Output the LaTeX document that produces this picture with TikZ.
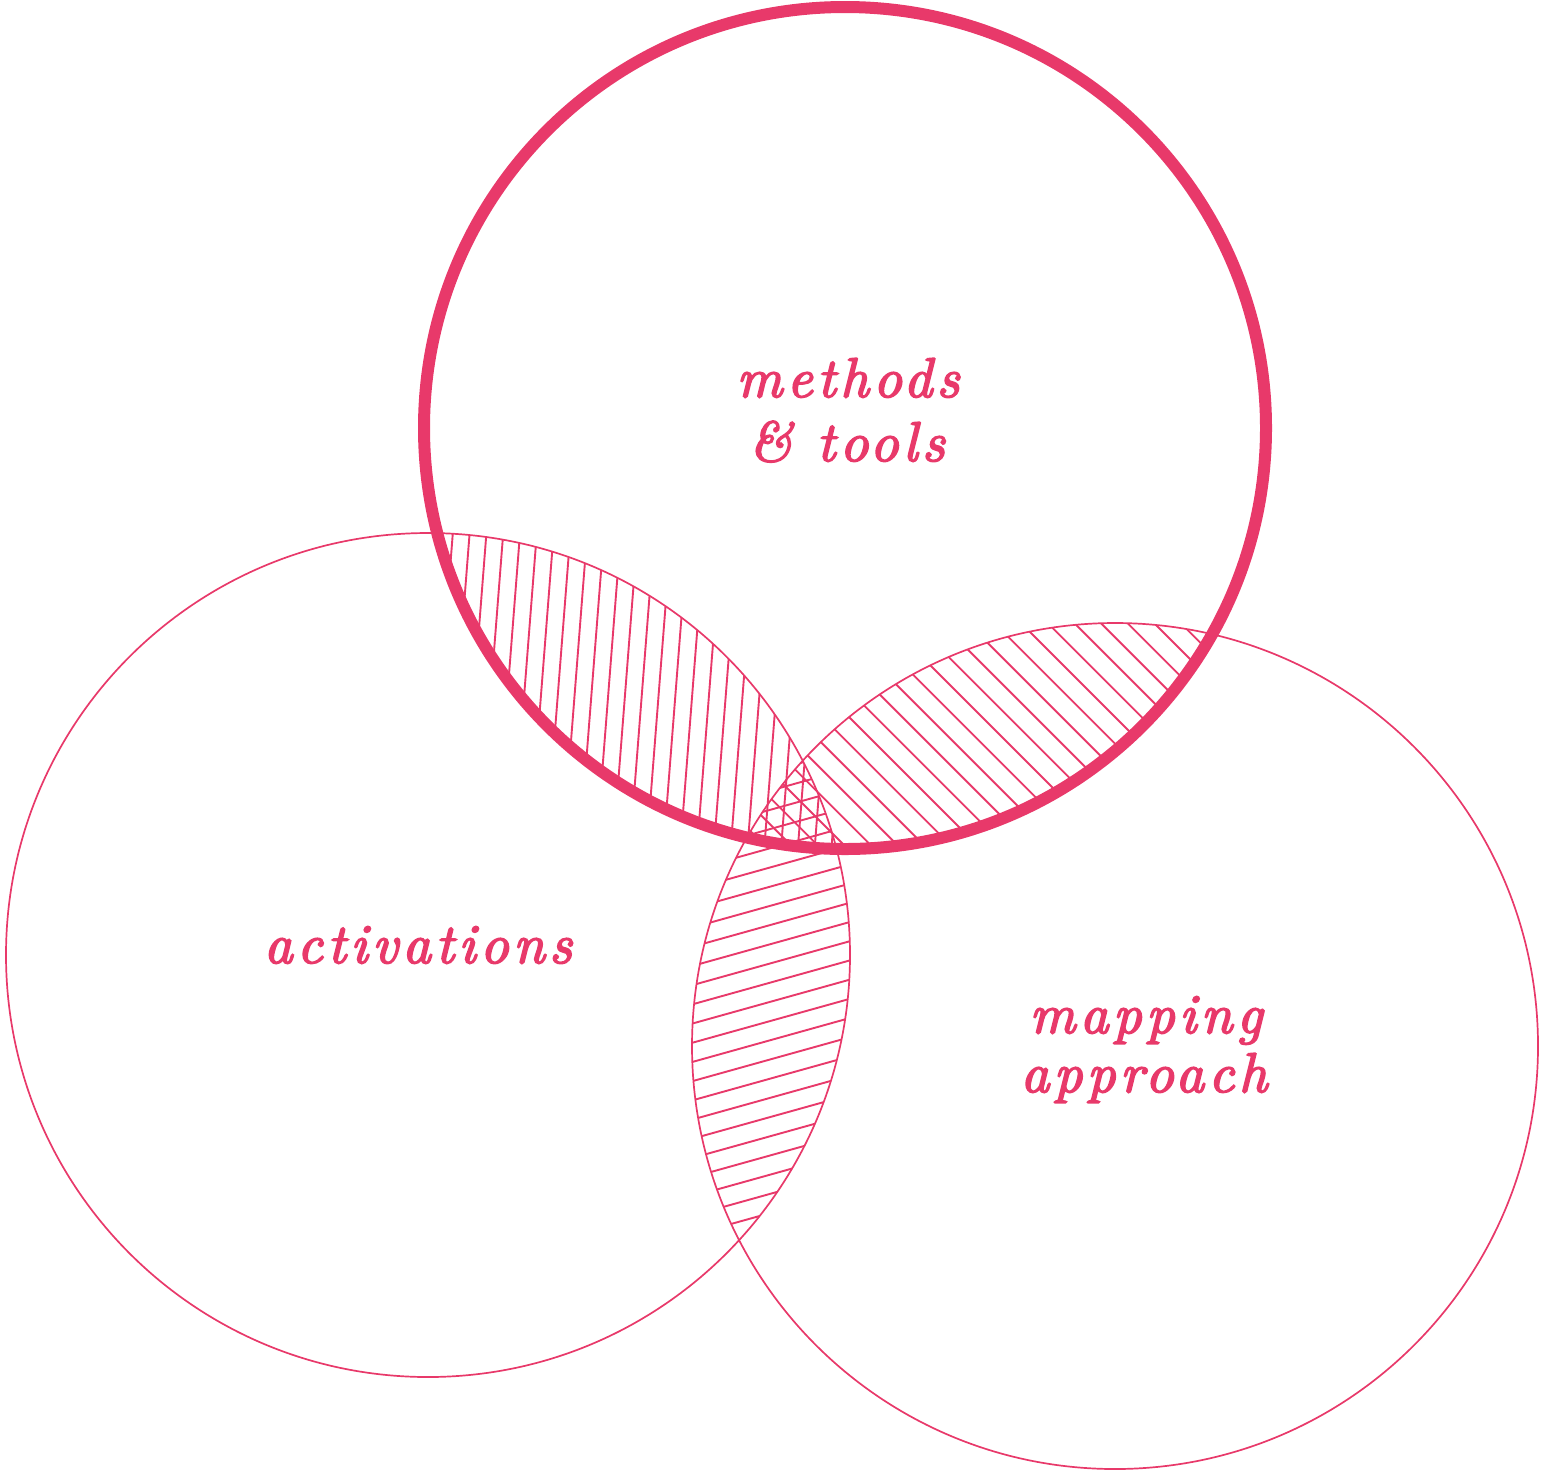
\documentclass[tikz,border=0pt]{standalone}
\usepackage{fontspec}
\newfontfamily\lab[LetterSpace=8,FakeBold=3]{lmroman10-italic.otf}
\definecolor{pk}{RGB}{232,57,106}
\begin{document}
\begin{tikzpicture}[x=0.5pt,y=-0.5pt,
  hatch/.style={pk, line width=0.95pt},
  thinring/.style={pk, line width=0.85pt},
  thickring/.style={pk, line width=6pt},
  lbl/.style={pk, anchor=base, inner sep=0pt, font=\lab\fontsize{28}{30}\selectfont}]
\useasboundingbox (0,0) rectangle (1550,1479);
\coordinate (T) at (845,428);
\coordinate (L) at (428,955);
\coordinate (R) at (1115,1046);
% top & left : near-vertical hatch
\begin{scope}
\clip (T) circle[radius=421];
\clip (L) circle[radius=422];
\foreach \k in {-12,...,30}
  \draw[hatch] ({452.7+16.8*\k+10.5},400) -- ({452.7+16.8*\k-59.7},1300);
\end{scope}
% top & right : diagonal hatch
\begin{scope}
\clip (T) circle[radius=421];
\clip (R) circle[radius=423];
\foreach \k in {-16,...,16}
  \draw[hatch] (600,{600-265-26.6*\k}) -- (1300,{1300-265-26.6*\k});
\end{scope}
% left & right : near-horizontal hatch
\begin{scope}
\clip (L) circle[radius=422];
\clip (R) circle[radius=423];
\foreach \k in {-16,...,16}
  \draw[hatch] (600,{1216.7+19.2*\k-167.4}) -- (950,{1216.7+19.2*\k-265.05});
\end{scope}
\draw[thinring] (L) circle[radius=422];
\draw[thinring] (R) circle[radius=423];
\draw[thickring] (T) circle[radius=421];
\node[lbl] (m1) at (848,397) {methods};
\node[lbl] (m2) at (847,461) {\&~tools};
\node[lbl] (a1) at (418,963) {activations};
\node[lbl] (p1) at (1146,1033) {mapping};
\node[lbl] (p2) at (1144,1092) {approach};
\end{tikzpicture}
\end{document}
